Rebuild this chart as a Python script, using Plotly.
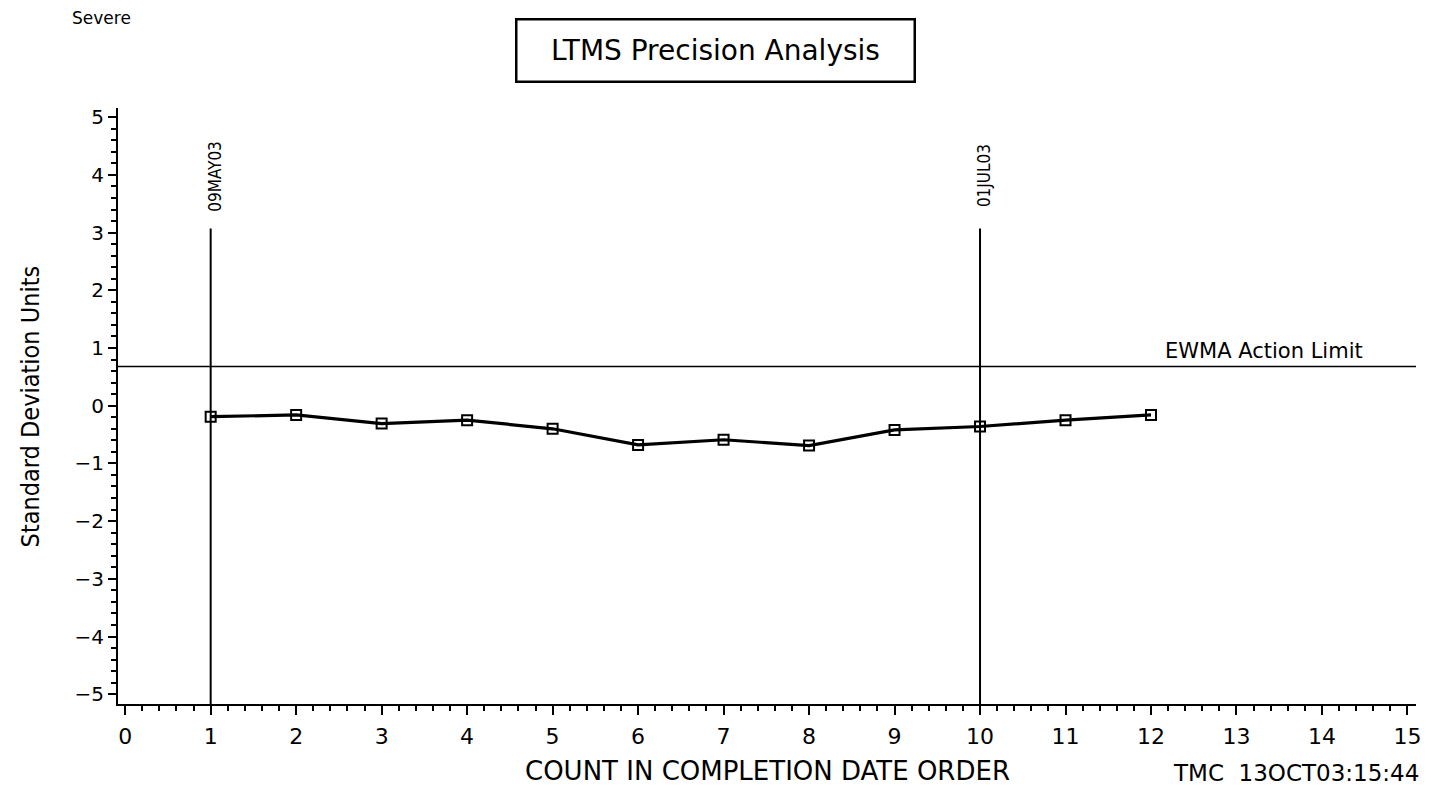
import plotly.graph_objects as go

# ---- data ----
counts = [1, 2, 3, 4, 5, 6, 7, 8, 9, 10, 11, 12]
ewma_values = [-0.19, -0.16, -0.31, -0.25, -0.40, -0.68, -0.59, -0.69, -0.42, -0.36, -0.25, -0.16]
ref_counts = [1, 10]
ref_labels = ["09MAY03", "01JUL03"]
action_limit = 0.68
x_ticks = list(range(0, 16))
y_ticks = list(range(-5, 6))

X_RANGE = [-0.084, 15.1]
Y_RANGE = [-5.17, 5.16]
REF_TOP = 3.07

FONT = "DejaVu Sans, Verdana, sans-serif"
NARROW = "DejaVu Sans Condensed, Liberation Sans Narrow, Roboto Condensed, DejaVu Sans, sans-serif"

fig = go.Figure()

fig.add_trace(go.Scatter(
    x=counts, y=ewma_values, mode="lines+markers",
    line=dict(color="black", width=3.2),
    marker=dict(symbol="square-open", size=10, color="black", line=dict(width=2, color="black")),
    showlegend=False, hoverinfo="x+y",
))

# reference (date) lines
for xv, lab in zip(ref_counts, ref_labels):
    fig.add_shape(type="line", xref="x", yref="y", x0=xv, x1=xv, y0=Y_RANGE[0], y1=REF_TOP,
                  line=dict(color="black", width=2))
    fig.add_annotation(x=xv, y=3.98, xref="x", yref="y", text=lab, textangle=-90,
                       xanchor="center", yanchor="middle",
                       showarrow=False, xshift=4, font=dict(family=NARROW, size=17, color="black"))

# action limit line
fig.add_shape(type="line", xref="paper", yref="y", x0=0, x1=1, y0=action_limit, y1=action_limit,
              line=dict(color="black", width=1.5))
fig.add_annotation(x=14.5, y=0.94, xref="x", yref="y", text="EWMA Action Limit",
                   xanchor="right", yanchor="middle",
                   showarrow=False, font=dict(family=FONT, size=21, color="black"))

# title box
fig.add_annotation(x=0.4605, y=1.0973, xref="paper", yref="paper", text="LTMS Precision Analysis",
                   xanchor="center", yanchor="middle",
                   showarrow=False, width=396, height=60, bordercolor="black", borderwidth=2.5,
                   borderpad=0, font=dict(family=FONT, size=28, color="black"))

# other texts
fig.add_annotation(x=-0.0368, y=1.151, xref="paper", yref="paper", text="Severe",
                   xanchor="left", yanchor="middle",
                   showarrow=False, font=dict(family=FONT, size=17, color="black"))
fig.add_annotation(x=0.5004, y=-0.1124, xref="paper", yref="paper", text="COUNT IN COMPLETION DATE ORDER",
                   xanchor="center", yanchor="middle",
                   showarrow=False, font=dict(family=FONT, size=26, color="black"))
fig.add_annotation(x=-0.0675, y=0.5, xref="paper", yref="paper", text="Standard Deviation Units",
                   xanchor="center", yanchor="middle",
                   textangle=-90, showarrow=False, font=dict(family=NARROW, size=25, color="black"))
fig.add_annotation(x=0.8112, y=-0.1157, xref="paper", yref="paper", text="TMC  13OCT03:15:44",
                   xanchor="left", yanchor="middle",
                   showarrow=False, font=dict(family=FONT, size=23, color="black"))

fig.update_xaxes(
    range=X_RANGE, tickvals=x_ticks, ticks="outside", ticklen=9, tickwidth=2, tickcolor="black",
    showline=True, linecolor="black", linewidth=2, showgrid=False, zeroline=False,
    tickfont=dict(family=FONT, size=22, color="black"), ticklabelstandoff=3,
    minor=dict(dtick=0.2, tick0=0, ticks="outside", ticklen=5, tickwidth=1.5, tickcolor="black", showgrid=False),
)
fig.update_yaxes(
    range=Y_RANGE, tickvals=y_ticks, ticks="outside", ticklen=8, tickwidth=2, tickcolor="black",
    showline=True, linecolor="black", linewidth=2, showgrid=False, zeroline=False,
    tickfont=dict(family=FONT, size=20, color="black"),
    minor=dict(dtick=0.2, tick0=0, ticks="outside", ticklen=5, tickwidth=1.5, tickcolor="black", showgrid=False),
)

fig.update_layout(
    width=1423, height=778,
    margin=dict(l=110, r=10, t=100, b=82),
    plot_bgcolor="white", paper_bgcolor="white",
    showlegend=False,
)

fig.write_html("out.html")
